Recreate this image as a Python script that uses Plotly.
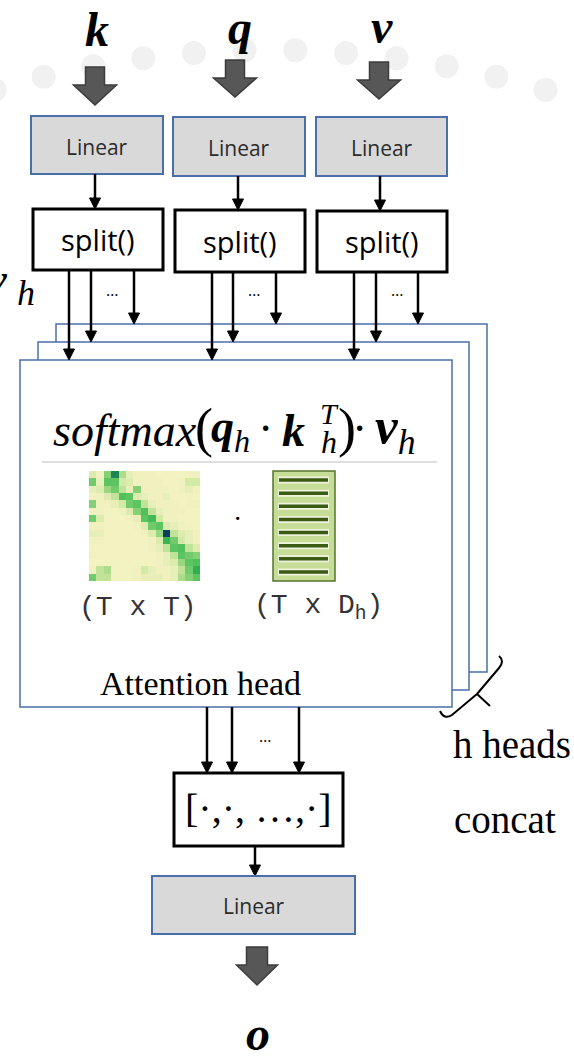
import math

import plotly.graph_objects as go

# ---------------------------------------------------------------- data
input_labels = ["k", "q", "v"]
output_label = "o"
linear_label = "Linear"
split_label = "split()"
head_label = "Attention head"
heads_label = "h heads"
concat_label = "concat"
concat_op = "[·,·, …,·]"
left_shape = "(T x T)"
right_shape = "(T x D<sub>h</sub>)"

# attention weights (row = query, col = key)
attn_weights = [
    [0.20, 0.10, 0.45, 0.88, 0.35, 0.15, 0.10, 0.10, 0.10, 0.05, 0.05, 0.05, 0.05, 0.10, 0.10],
    [0.50, 0.15, 0.55, 0.55, 0.25, 0.20, 0.10, 0.10, 0.10, 0.10, 0.05, 0.05, 0.10, 0.25, 0.25],
    [0.15, 0.20, 0.40, 0.50, 0.30, 0.15, 0.45, 0.10, 0.10, 0.10, 0.10, 0.05, 0.10, 0.15, 0.10],
    [0.10, 0.10, 0.20, 0.30, 0.60, 0.55, 0.20, 0.15, 0.10, 0.10, 0.15, 0.05, 0.05, 0.10, 0.05],
    [0.45, 0.10, 0.10, 0.15, 0.25, 0.50, 0.55, 0.30, 0.15, 0.10, 0.10, 0.10, 0.05, 0.10, 0.10],
    [0.10, 0.10, 0.05, 0.05, 0.10, 0.20, 0.45, 0.60, 0.30, 0.15, 0.10, 0.10, 0.10, 0.05, 0.05],
    [0.50, 0.20, 0.05, 0.05, 0.05, 0.10, 0.15, 0.55, 0.65, 0.25, 0.10, 0.10, 0.05, 0.05, 0.05],
    [0.10, 0.10, 0.05, 0.05, 0.05, 0.05, 0.10, 0.20, 0.50, 0.55, 0.20, 0.15, 0.10, 0.10, 0.05],
    [0.15, 0.15, 0.05, 0.05, 0.05, 0.05, 0.05, 0.10, 0.20, 0.40, 1.00, 0.30, 0.20, 0.15, 0.10],
    [0.10, 0.10, 0.05, 0.05, 0.05, 0.05, 0.05, 0.05, 0.10, 0.20, 0.70, 0.50, 0.25, 0.15, 0.10],
    [0.05, 0.05, 0.05, 0.05, 0.05, 0.05, 0.05, 0.05, 0.10, 0.15, 0.30, 0.55, 0.60, 0.30, 0.20],
    [0.10, 0.05, 0.05, 0.05, 0.05, 0.05, 0.05, 0.05, 0.05, 0.10, 0.15, 0.30, 0.55, 0.50, 0.45],
    [0.05, 0.05, 0.05, 0.05, 0.05, 0.05, 0.05, 0.05, 0.05, 0.10, 0.15, 0.20, 0.40, 0.55, 0.60],
    [0.10, 0.30, 0.35, 0.05, 0.05, 0.05, 0.10, 0.25, 0.15, 0.10, 0.10, 0.15, 0.30, 0.50, 0.75],
    [0.50, 0.30, 0.30, 0.05, 0.05, 0.05, 0.10, 0.15, 0.15, 0.15, 0.10, 0.15, 0.35, 0.45, 0.55],
]
value_rows = 8  # stripes drawn in the (T x D_h) value block

# ---------------------------------------------------------------- layout
W, H = 574, 1056
BLUE = "#4a6fa8"
GREY_FILL = "#d9d9d9"
ARROW_FILL = "#575757"
SERIF = "Liberation Serif, DejaVu Serif, serif"
SANS = "Open Sans, Noto Sans, sans-serif"
MONO = "Liberation Mono, Courier New, monospace"

col_x = [96, 239, 381]          # centre of each input column
linear_boxes = [(31, 116, 163, 174), (173, 117, 305, 176), (316, 117, 447, 176)]
split_boxes = [(33, 209, 163, 270), (175, 210, 305, 272), (317, 211, 447, 272)]
split_arrows = [(69, 91, 134), (212, 233, 276), (354, 376, 418)]
big_arrows = [(95, 67, 85, 105), (235, 60, 78, 97), (379, 62, 80, 99)]
label_y = [29, 27, 26]
# head stack: back, middle, front
stack = [(56, 324, 487, 672), (38, 342, 469, 690), (20, 360, 452, 707)]

shapes = []
annotations = []


def rect(x0, y0, x1, y1, fill="white", line="black", width=1.5, layer="above"):
    shapes.append(dict(type="rect", xref="x", yref="y", x0=x0, y0=y0, x1=x1, y1=y1,
                       fillcolor=fill, line=dict(color=line, width=width), layer=layer))


def arrow(x, y0, y1, head=11, half=5.5, width=2.5):
    shapes.append(dict(type="line", xref="x", yref="y", x0=x, y0=y0, x1=x, y1=y1 - head + 1,
                       line=dict(color="black", width=width), layer="above"))
    shapes.append(dict(type="path", xref="x", yref="y",
                       path=f"M {x - half},{y1 - head} L {x + half},{y1 - head} L {x},{y1} Z",
                       fillcolor="black", line=dict(color="black", width=1), layer="above"))


def block_arrow(cx, top, base, tip, shaft=9.5, head=21.5):
    p = (f"M {cx - shaft},{top} L {cx + shaft},{top} L {cx + shaft},{base} "
         f"L {cx + head},{base} L {cx},{tip} L {cx - head},{base} "
         f"L {cx - shaft},{base} Z")
    shapes.append(dict(type="path", xref="x", yref="y", path=p, fillcolor=ARROW_FILL,
                       line=dict(color="#3c3c3c", width=1.5), layer="above"))


def text(x, y, s, size, family=SANS, color="black", xanchor="center"):
    annotations.append(dict(x=x, y=y, xref="x", yref="y", text=s, showarrow=False,
                            xanchor=xanchor, yanchor="middle", borderpad=0,
                            font=dict(size=size, family=family, color=color)))


# faint seal watermark in the background: a ring of soft dots
for j in range(12):
    a = math.radians(-106.5 + j * 3.0)
    cx, cy = 270 + 970 * math.cos(a), 1020 + 970 * math.sin(a)
    shapes.append(dict(type="circle", xref="x", yref="y", x0=cx - 12, x1=cx + 12,
                       y0=cy - 12, y1=cy + 12, fillcolor="#f1f1f1",
                       line=dict(width=0), layer="below"))

# inputs: label, block arrow, Linear, split(), fan-out arrows
for i, lab in enumerate(input_labels):
    text(col_x[i] + 1, label_y[i], f"<b><i>{lab}</i></b>", 48, SERIF)
    block_arrow(*big_arrows[i])
    x0, y0, x1, y1 = linear_boxes[i]
    rect(x0, y0, x1, y1, GREY_FILL, BLUE, 2)
    text((x0 + x1) / 2, (y0 + y1) / 2 + 1.5, linear_label, 21, SANS, "#2b2b2b")
    sx0, sy0, sx1, sy1 = split_boxes[i]
    arrow(col_x[i] - 1, y1, sy0)
    rect(sx0, sy0, sx1, sy1, "white", "black", 3)
    text((sx0 + sx1) / 2, (sy0 + sy1) / 2, split_label, 29, SANS)

# the stacked attention heads (below the heatmap trace)
for x0, y0, x1, y1 in stack:
    rect(x0, y0, x1, y1, "white", BLUE, 1.5, layer="below")

for i, xs in enumerate(split_arrows):
    y_start = split_boxes[i][3]
    for x, (_, top, _, _) in zip(xs, stack[::-1]):
        arrow(x, y_start, top)
    text(xs[1] + 21, 290, "…", 16, SANS)

# left edge fragment of a v_h label belonging to a neighbouring panel
text(9, 279, "<b><i>v</i></b>", 42, SERIF, xanchor="right")
text(16, 293, "<i>h</i>", 36, SERIF, xanchor="left")

# formula inside the front head, set piece by piece
FY = 430
text(52, FY, "<i>softmax</i>", 46, SERIF, xanchor="left")
text(194, FY - 2, "(", 54, SERIF, xanchor="left")
text(210, FY, "<b><i>q</i></b><sub><i>h</i></sub>", 46, SERIF, xanchor="left")
text(265, FY - 2, "·", 46, SERIF)
text(281, FY, "<b><i>k</i></b>", 46, SERIF, xanchor="left")
text(319, FY - 17, "<i>T</i>", 30, SERIF, xanchor="left")
text(320, FY + 12, "<i>h</i>", 32, SERIF, xanchor="left")
text(337, FY - 2, ")", 54, SERIF, xanchor="left")
text(359, FY - 2, "·", 46, SERIF)
text(374, FY, "<b><i>v</i></b><sub><i>h</i></sub>", 51, SERIF, xanchor="left")
shapes.append(dict(type="line", xref="x", yref="y", x0=42, x1=437, y0=462, y1=462,
                   line=dict(color="#bdbdbd", width=1.2), layer="above"))

# value block (T x D_h)
rect(273, 471, 335, 581, "#c6dd98", "#55742c", 1.5)
for r in range(value_rows):
    y = 480 + r * (92 / (value_rows - 1))
    shapes.append(dict(type="line", xref="x", yref="y", x0=278, x1=329, y0=y, y1=y,
                       line=dict(color="#eef4dc", width=7), layer="above"))
    shapes.append(dict(type="line", xref="x", yref="y", x0=279, x1=328, y0=y, y1=y,
                       line=dict(color="#3b5a14", width=3.5), layer="above"))
text(237, 518, "·", 28, SERIF)
text(138, 607, left_shape, 28, MONO, "#333333")
text(318, 607, right_shape, 28, MONO, "#333333")
text(200, 683, head_label, 34, SERIF)

# h heads brace
shapes.append(dict(type="path", xref="x", yref="y",
                   path="M 440,711 Q 444,720 452,715 L 477,694 M 477,694 L 490,706 "
                        "M 477,694 L 499,668 Q 505,661 499,656",
                   line=dict(color="black", width=2), layer="above"))
text(452, 744, heads_label, 39, SERIF, xanchor="left")
text(453, 819, concat_label, 39, SERIF, xanchor="left")

# concat + output projection
for x in (207, 232, 299):
    arrow(x, 707, 773)
text(265, 736, "…", 16, SANS)
rect(174, 773, 343, 846, "white", "black", 3)
text(258, 808, concat_op, 40, SERIF)
arrow(255, 846, 876)
rect(152, 876, 355, 934, GREY_FILL, BLUE, 2)
text(253.5, 906, linear_label, 21, SANS, "#2b2b2b")
block_arrow(257, 947, 965, 985, 10.5, 20.5)
text(258, 1033, f"<b><i>{output_label}</i></b>", 48, SERIF)

# ---------------------------------------------------------------- figure
n = len(attn_weights)
hm_x0, hm_x1, hm_y0, hm_y1 = 89, 200, 471, 581
fig = go.Figure(go.Heatmap(
    z=attn_weights,
    x0=hm_x0 + (hm_x1 - hm_x0) / n / 2, dx=(hm_x1 - hm_x0) / n,
    y0=hm_y0 + (hm_y1 - hm_y0) / n / 2, dy=(hm_y1 - hm_y0) / n,
    zmin=0, zmax=1, showscale=False, hoverinfo="skip",
    colorscale=[[0, "#f7f5c6"], [0.12, "#eef0bc"], [0.25, "#d3e9a6"], [0.4, "#9ad680"],
                [0.55, "#5cc460"], [0.75, "#2eae4e"], [0.9, "#1b7f55"], [1, "#0b3f5f"]],
))

fig.update_layout(
    width=W, height=H,
    margin=dict(l=0, r=0, t=0, b=0),
    paper_bgcolor="white", plot_bgcolor="white",
    xaxis=dict(range=[0, W], visible=False, fixedrange=True),
    yaxis=dict(range=[H, 0], visible=False, fixedrange=True),
    shapes=shapes, annotations=annotations,
    showlegend=False,
)
# the page body has a default 8px margin; drop it so the figure fills the window
fig.write_html("out.html", config={"displayModeBar": False},
               post_script="document.body.style.margin='0';")
